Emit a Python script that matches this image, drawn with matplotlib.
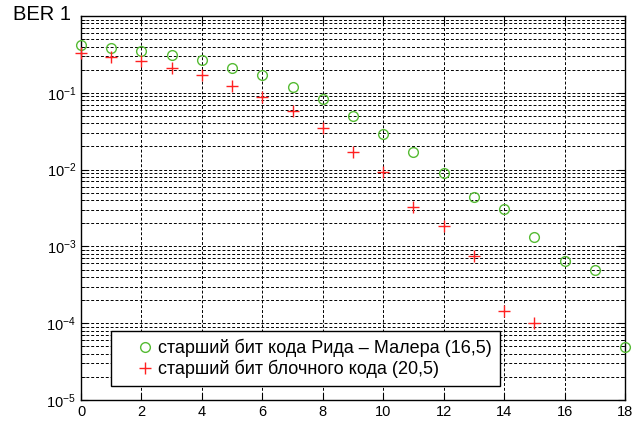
import numpy as np
import matplotlib
matplotlib.use("Agg")
from matplotlib import pyplot as plt
from matplotlib.ticker import LogLocator, FixedLocator

plt.rcParams['font.family'] = ['Liberation Sans', 'DejaVu Sans']
plt.rcParams['mathtext.fontset'] = 'custom'
plt.rcParams['mathtext.rm'] = 'Liberation Sans'
plt.rcParams['mathtext.it'] = 'Liberation Sans'

# data
x_rm = np.arange(0, 19)
ber_rm = [0.42, 0.38, 0.35, 0.31, 0.27, 0.212, 0.17, 0.118, 0.082, 0.050,
          0.029, 0.017, 0.0091, 0.0044, 0.0031, 0.00134, 0.00065, 0.0005, 4.85e-5]
x_blk = np.arange(0, 16)
ber_blk = [0.327, 0.29, 0.26, 0.212, 0.17, 0.124, 0.0874, 0.0574, 0.0348, 0.017,
           0.0092, 0.0033, 0.00186, 0.00075, 1.46e-4, 1.0e-4]

lbl_rm = 'старший бит кода Рида – Малера (16,5)'
lbl_blk = 'старший бит блочного кода (20,5)'
xticks = [0, 2, 4, 6, 8, 10, 12, 14, 16, 18]

fig = plt.figure(figsize=(6.39, 4.24), dpi=100)
ax = fig.add_axes([81/639, 1-400/424, 544/639, 384/424])

ax.plot(x_rm, ber_rm, 'o', mfc='none', mec='#55bb33', ms=7, mew=1,
        label=lbl_rm, clip_on=False, zorder=3)
ax.plot(x_blk, ber_blk, '+', color='#ff2020', ms=8, mew=1,
        label=lbl_blk, clip_on=False, zorder=3)

ax.set_yscale('log')
ax.set_xlim(0, 18)
ax.set_ylim(1e-5, 1)
ax.xaxis.set_major_locator(FixedLocator(xticks))
ax.yaxis.set_minor_locator(LogLocator(base=10, subs=np.arange(2, 10), numticks=20))
ax.yaxis.set_minor_formatter(plt.NullFormatter())
ax.set_yticks([1e-5, 1e-4, 1e-3, 1e-2, 1e-1])
ax.set_yticklabels(['$10^{-5}$', '$10^{-4}$', '$10^{-3}$', '$10^{-2}$', '$10^{-1}$'])

ax.grid(True, which='major', axis='both', color='k', ls=(0, (3, 2)), lw=0.7)
ax.grid(True, which='minor', axis='y', color='k', ls=(0, (3, 2)), lw=0.7)
ax.tick_params(which='both', direction='in', top=True, right=True, labelsize=10.5)
ax.tick_params(which='minor', length=3)
ax.tick_params(which='major', length=5)
for s in ax.spines.values():
    s.set_linewidth(1)

fig.text(13/639, 1-15/424, 'BER 1', fontsize=14.5, va='center', ha='left')

leg = ax.legend(loc='lower left', bbox_to_anchor=(0.055, 0.036), borderaxespad=0,
                fontsize=13, fancybox=False, edgecolor='k', framealpha=1,
                handletextpad=-0.72, handlelength=2.88, borderpad=0.45, labelspacing=0.15)
leg.get_frame().set_linewidth(1)
leg.set_zorder(5)

fig.savefig('out.png', dpi=100)
